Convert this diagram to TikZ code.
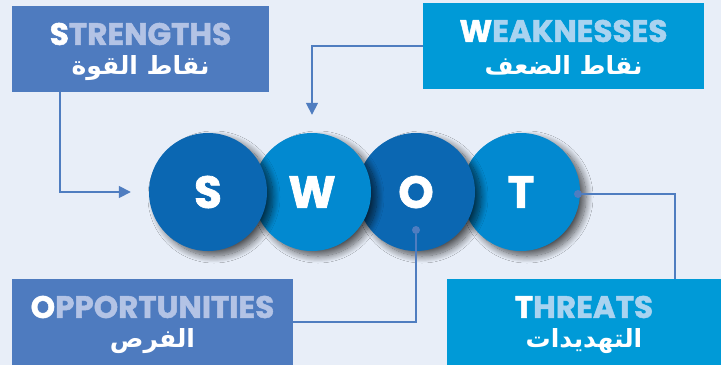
\documentclass[tikz,border=0pt]{standalone}
\usepackage{fontspec}
\usetikzlibrary{shadows.blur,arrows.meta}
\TeXXeTstate=1
\newfontfamily\headfont{Poppins}[BoldFeatures={FakeBold=1.6}]
\newfontfamily\arabicfont[Script=Arabic]{DejaVu Sans}
\definecolor{bgc}{HTML}{E8EEF8}
\definecolor{boxA}{HTML}{4E7BBF}
\definecolor{boxB}{HTML}{009AD7}
\definecolor{lightA}{HTML}{B3C3E5}
\definecolor{lightB}{HTML}{A9D3F0}
\definecolor{circDark}{HTML}{0B67B2}
\definecolor{circLight}{HTML}{0289D0}
\definecolor{connc}{HTML}{4F7DC0}
\tikzset{
  labelbox/.style={draw=none, minimum height=86pt, inner sep=0pt},
  headtext/.style={font=\headfont\bfseries\fontsize{31}{31}\selectfont, inner sep=0pt, anchor=center},
  artext/.style={font=\arabicfont\bfseries\fontsize{25}{25}\selectfont, text=white, inner sep=0pt, anchor=center},
  bigcirc/.style={circle, minimum size=118pt, inner sep=0pt, text=white,
    font=\headfont\bfseries\fontsize{45}{45}\selectfont,
    blur shadow={shadow xshift=6pt, shadow yshift=-5pt, shadow blur steps=14, shadow opacity=65, shadow blur radius=7pt}},
  conn/.style={draw=connc, line width=1.6pt},
  tip/.style={-{Triangle[length=12pt,width=12pt]}},
  dotc/.style={circle, fill=connc, minimum size=8pt, inner sep=0pt}
}
\begin{document}
\begin{tikzpicture}[x=1pt,y=-1pt]
\fill[bgc] (0,0) rectangle (721,365);
\useasboundingbox (0,0) rectangle (721,365);
% boxes
\node[labelbox, fill=boxA, minimum width=257pt] (sbox) at (140.5,49) {};
\node[labelbox, fill=boxB, minimum width=281pt] (wbox) at (563.5,46) {};
\node[labelbox, fill=boxA, minimum width=281pt] (obox) at (152.5,322) {};
\node[labelbox, fill=boxB, minimum width=274pt] (tbox) at (584,322) {};
% texts
\node[headtext] (sh) at (140.5,34) {\textcolor{white}{S}\textcolor{lightA}{TRENGTHS}};
\node[artext] (sa) at (140.5,68) {\beginR نقاط القوة\endR};
\node[headtext] (wh) at (563.5,31) {\textcolor{white}{W}\textcolor{lightB}{EAKNESSES}};
\node[artext] (wa) at (563.5,65) {\beginR نقاط الضعف\endR};
\node[headtext] (oh) at (152.5,307) {\textcolor{white}{O}\textcolor{lightA}{PPORTUNITIES}};
\node[artext] (oa) at (152.5,341) {\beginR الفرص\endR};
\node[headtext] (th) at (584,307) {\textcolor{white}{T}\textcolor{lightB}{HREATS}};
\node[artext] (ta) at (584,341) {\beginR التهديدات\endR};
% circles (back to front)
\node[bigcirc, fill=circLight] (cT) at (521,192) {T};
\node[bigcirc, fill=circDark] (cO) at (416,192) {O};
\node[bigcirc, fill=circLight] (cW) at (312,192) {W};
\node[bigcirc, fill=circDark] (cS) at (208,192) {S};
% dots
\node[dotc] (odot) at (416,230) {};
\node[dotc] (tdot) at (578,194) {};
\coordinate (sx) at (60,0);
\coordinate (tx) at (675,0);
% connectors
\draw[conn, tip] (sbox.south -| sx) |- ([xshift=-18pt]cS.west);
\draw[conn, tip] (wbox.west) -| ([yshift=18pt]cW.north);
\draw[conn] (odot) |- (obox.east);
\draw[conn] (tdot) -| (tbox.north -| tx);
\end{tikzpicture}
\end{document}
